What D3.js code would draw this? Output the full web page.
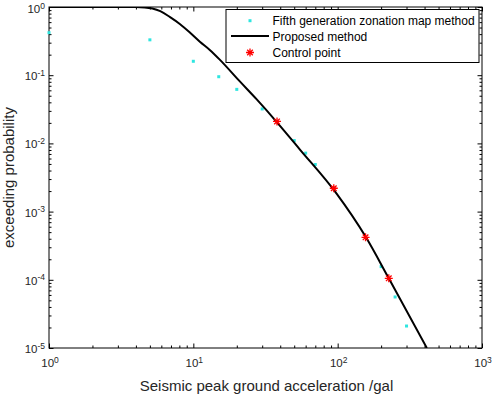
<!DOCTYPE html>
<html>
<head>
<meta charset="utf-8">
<script src="https://cdn.jsdelivr.net/npm/d3@7"></script>
<style>
  body { margin: 0; background: #fff; }
  svg { font-family: "Liberation Sans", Arial, sans-serif; }
</style>
</head>
<body>
<div id="chart"></div>
<script>
// fifth generation zonation map (cyan dots)
const mapX = [1, 5, 10, 15, 20, 30, 50, 60, 70, 200, 250, 300]
const mapY = [0.42, 0.33, 0.16, 0.095, 0.062, 0.032, 0.011, 0.0072, 0.0049, 1.56e-4, 5.6e-5, 2.1e-5]
// proposed method (black curve)
const curveX = [1, 2, 3, 4, 4.6, 5.2, 5.9, 6.9, 8.1, 9.5, 11.1, 13, 15.3, 21, 27.4, 38, 54.6, 98, 156, 226, 415]
const curveY = [1, 1, 0.999, 0.996, 0.985, 0.95, 0.87, 0.71, 0.56, 0.42, 0.31, 0.235, 0.168, 0.081, 0.0445, 0.0204, 0.0082, 0.00185, 4.3e-4, 1.05e-4, 1e-5]
// control points (red stars)
const ctrlX = [38, 94, 156, 226]
const ctrlY = [0.021, 0.0022, 4.2e-4, 1.05e-4]

const xMajor = [1, 10, 100, 1000]
const yMajor = [1e-5, 1e-4, 1e-3, 1e-2, 1e-1, 1]
const legendLabels = ["Fifth generation zonation map method", "Proposed method", "Control point"]

const anchoTotal = 496
const altoTotal = 396
const margins = { top: 7, right: 14, bottom: 48, left: 49 }

const svg = d3.select("#chart").append("svg")
  .attr("width", anchoTotal)
  .attr("height", altoTotal)

const x = d3.scaleLog().domain([1, 1000]).range([margins.left, anchoTotal - margins.right])
const y = d3.scaleLog().domain([1e-5, 1]).range([altoTotal - margins.bottom, margins.top])

const minors = (majors) => {
  const out = []
  for (let i = 0; i < majors.length - 1; i++)
    for (let k = 2; k < 10; k++) out.push(majors[i] * k)
  return out
}

svg.append("defs").append("clipPath").attr("id", "clip")
  .append("rect")
  .attr("x", x.range()[0]).attr("y", y.range()[1])
  .attr("width", x.range()[1] - x.range()[0])
  .attr("height", y.range()[0] - y.range()[1])

// axes, ticks pointing inward on all four sides
const addAxis = (axisFn, scale, values, size, transform) => {
  const g = svg.append("g")
    .attr("transform", transform)
    .call(axisFn(scale).tickValues(values).tickSize(-size).tickFormat(""))
  g.select(".domain").remove()
  g.selectAll("line").attr("stroke", "#000")
  return g
}
const bottomY = y.range()[0], topY = y.range()[1]
const leftX = x.range()[0], rightX = x.range()[1]
addAxis(d3.axisBottom, x, xMajor, 4.5, `translate(0,${bottomY})`)
addAxis(d3.axisBottom, x, minors(xMajor), 2.5, `translate(0,${bottomY})`)
addAxis(d3.axisTop, x, xMajor, 4.5, `translate(0,${topY})`)
addAxis(d3.axisTop, x, minors(xMajor), 2.5, `translate(0,${topY})`)
addAxis(d3.axisLeft, y, yMajor, 4.5, `translate(${leftX},0)`)
addAxis(d3.axisLeft, y, minors(yMajor), 2.5, `translate(${leftX},0)`)
addAxis(d3.axisRight, y, yMajor, 4.5, `translate(${rightX},0)`)
addAxis(d3.axisRight, y, minors(yMajor), 2.5, `translate(${rightX},0)`)

svg.append("rect")
  .attr("x", leftX).attr("y", topY)
  .attr("width", rightX - leftX).attr("height", bottomY - topY)
  .attr("fill", "none").attr("stroke", "#000").attr("stroke-width", 1)

// tick labels 10^n
const powLabel = (sel, v) => {
  const e = Math.round(Math.log10(v))
  sel.append("tspan").attr("font-size", 11.5).text("10")
  sel.append("tspan").attr("font-size", 8.5).attr("dy", -4.5).text(e)
}
xMajor.forEach((v) => {
  const t = svg.append("text")
    .attr("x", x(v) + 1).attr("y", bottomY + 19)
    .attr("text-anchor", "middle").attr("fill", "#262626")
  powLabel(t, v)
})
yMajor.forEach((v) => {
  const t = svg.append("text")
    .attr("x", leftX - 4).attr("y", y(v) + (v === 1 ? 6 : 5))
    .attr("text-anchor", "end").attr("fill", "#262626")
  powLabel(t, v)
})

svg.append("text")
  .attr("x", (leftX + rightX) / 2 + 1).attr("y", altoTotal - 5)
  .attr("text-anchor", "middle").attr("font-size", 15).attr("fill", "#262626")
  .text("Seismic peak ground acceleration /gal")
svg.append("text")
  .attr("transform", `translate(14,${(topY + bottomY) / 2}) rotate(-90)`)
  .attr("text-anchor", "middle").attr("font-size", 15).attr("fill", "#262626")
  .text("exceeding probability")

// cyan dots (not clipped, the first one sits on the axis)
svg.selectAll(".map").data(mapX.map((d, i) => [d, mapY[i]])).enter()
  .append("rect")
  .attr("x", (d) => x(d[0]) - 1.5).attr("y", (d) => y(d[1]) - 1.5)
  .attr("width", 3).attr("height", 3)
  .attr("fill", "#2ee6e0")

const plot = svg.append("g").attr("clip-path", "url(#clip)")

// black curve
const line = d3.line().x((d) => x(d[0])).y((d) => y(d[1])).curve(d3.curveMonotoneX)
plot.append("path")
  .datum(curveX.map((d, i) => [d, curveY[i]]))
  .attr("d", line)
  .attr("fill", "none").attr("stroke", "#000").attr("stroke-width", 2)

// asterisk marker
const star = (g, cx, cy, r) => {
  const d = `M${cx - r},${cy}L${cx + r},${cy}M${cx},${cy - r}L${cx},${cy + r}` +
    `M${cx - r * 0.7},${cy - r * 0.7}L${cx + r * 0.7},${cy + r * 0.7}` +
    `M${cx - r * 0.7},${cy + r * 0.7}L${cx + r * 0.7},${cy - r * 0.7}`
  g.append("path").attr("d", d).attr("stroke", "#f00").attr("stroke-width", 1.3).attr("fill", "none")
}
ctrlX.forEach((d, i) => star(svg, x(d), y(ctrlY[i]), 4))

// legend
const leg = svg.append("g")
leg.append("rect")
  .attr("x", 226).attr("y", 9.5).attr("width", 253).attr("height", 53)
  .attr("fill", "#fff").attr("stroke", "#000").attr("stroke-width", 1)
const rowY = [20.7, 36, 52.5]
leg.append("rect").attr("x", 248.5).attr("y", rowY[0] - 1.5).attr("width", 3).attr("height", 3).attr("fill", "#2ee6e0")
leg.append("line").attr("x1", 231).attr("x2", 269).attr("y1", rowY[1]).attr("y2", rowY[1])
  .attr("stroke", "#000").attr("stroke-width", 2)
star(leg, 250, rowY[2], 4)
legendLabels.forEach((t, i) => {
  leg.append("text")
    .attr("x", 272.5).attr("y", rowY[i] + 4.5)
    .attr("font-size", 12).attr("fill", "#000")
    .text(t)
})
</script>
</body>
</html>
